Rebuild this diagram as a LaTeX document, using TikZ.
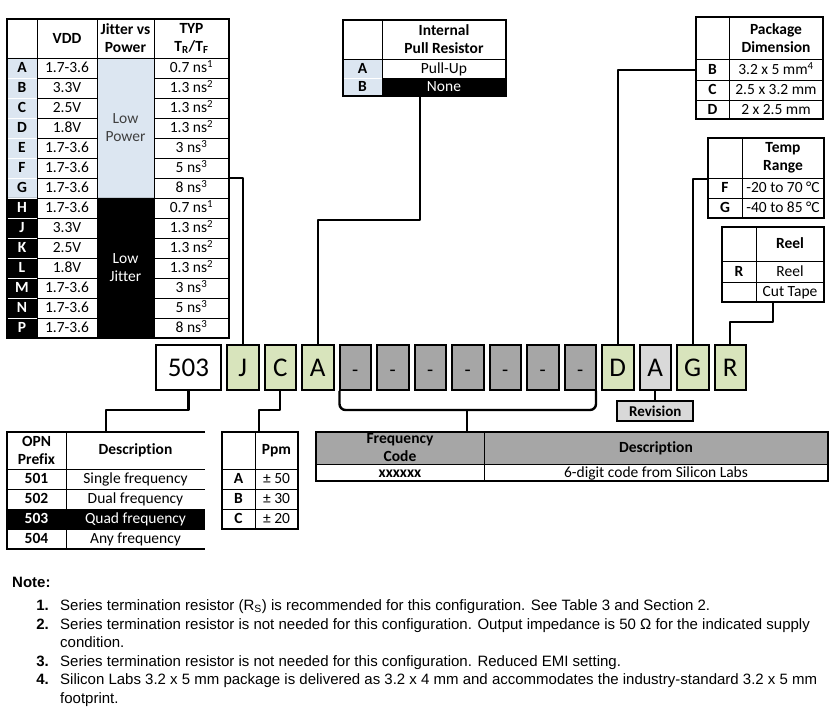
\documentclass[tikz,border=0pt]{standalone}
\usepackage{fontspec}
\setmainfont{Carlito}[Ligatures=NoCommon]
\newfontfamily\notefont{Liberation Sans}
\usetikzlibrary{positioning, calc}
\definecolor{lowBlue}{HTML}{DCE6F1}
\definecolor{optGreen}{HTML}{D8E4BC}
\definecolor{codeGray}{HTML}{A6A6A6}
\definecolor{revGray}{HTML}{D9D9D9}
\definecolor{textGray}{gray}{0.25}

\tikzset{
    frame/.style={line width=2pt},
    sep/.style={line width=0.8pt},
    wire/.style={line width=2.4pt, line join=round},
    cell/.style={inner sep=0pt, text height=10.5pt, text depth=1pt, font=\fontsize{15.5}{18}\selectfont},
    cellb/.style={cell, font=\fontsize{15.5}{18}\selectfont\bfseries},
    mline/.style={inner sep=0pt, align=center, font=\fontsize{15.5}{18}\selectfont},
    hdm/.style={mline, font=\fontsize{15.5}{18}\selectfont\bfseries},
    codebox/.style={draw, line width=2pt, fill=optGreen, minimum width=31.5pt, minimum height=45pt,
        inner sep=0pt, text height=17.5pt, text depth=0pt, font=\fontsize{27}{27}\selectfont},
    dashbox/.style={codebox, fill=codeGray, font=\fontsize{20}{20}\selectfont},
    revbox/.style={draw, line width=2pt, fill=revGray, minimum width=76pt, minimum height=20pt,
        inner sep=0pt, font=\fontsize{15}{18}\selectfont\bfseries},
    note/.style={inner sep=0pt, font=\fontsize{15}{18}\notefont},
    noteno/.style={inner sep=0pt, anchor=base east, font=\fontsize{15}{18}\notefont\bfseries}
}

\begin{document}
\begin{tikzpicture}[x=1pt, y=-1pt]
    \useasboundingbox (0,0) rectangle (839,711);

    % VDD / jitter table
    \fill[lowBlue] (7,58) rectangle (37,198) (97,58) rectangle (154,198);
    \fill[black] (7,198) rectangle (37,338) (97,198) rectangle (154,338);
    \foreach \y in {78,98,...,318} \draw[sep, white] (7,\y) -- (37,\y);
    \foreach \y in {78,98,...,318} \draw[sep] (37,\y) -- (97,\y) (154,\y) -- (229,\y);
    \draw[sep] (7,58) -- (229,58) (37,19) -- (37,338) (97,19) -- (97,338) (154,19) -- (154,338);
    \draw[frame] (7,19) rectangle (229,338);
    \node[hdm] (vddHd) at (67,38.5) {VDD};
    \node[hdm] (jitHd) at (125.5,38.5) {Jitter vs\\Power};
    \node[hdm] (typHd) at (191.5,38.5) {TYP\\T\textsubscript{R}/T\textsubscript{F}};
    \foreach \l [count=\i] in {A,B,C,D,E,F,G} \node[cellb] (lp\i) at (22,{48+20*\i}) {\l};
    \foreach \l [count=\i] in {H,J,K,L,M,N,P} \node[cellb, white] (lj\i) at (22,{188+20*\i}) {\l};
    \foreach \v [count=\i] in {1.7-3.6,3.3V,2.5V,1.8V,1.7-3.6,1.7-3.6,1.7-3.6} {
        \node[cell] (vp\i) at (67,{48+20*\i}) {\v};
        \node[cell] (vj\i) at (67,{188+20*\i}) {\v};
    }
    \foreach \t [count=\i] in {0.7 ns\textsuperscript{1}, 1.3 ns\textsuperscript{2}, 1.3 ns\textsuperscript{2},
            1.3 ns\textsuperscript{2}, 3 ns\textsuperscript{3}, 5 ns\textsuperscript{3}, 8 ns\textsuperscript{3}} {
        \node[cell] (tp\i) at (191.5,{48+20*\i}) {\t};
        \node[cell] (tj\i) at (191.5,{188+20*\i}) {\t};
    }
    \node[mline, textGray] (lowPow) at (125.5,128) {Low\\Power};
    \node[mline, white] (lowJit) at (125.5,268) {Low\\Jitter};
    \coordinate (vddG) at (229,178);

    % internal pull resistor
    \fill[lowBlue] (343,59) rectangle (382,96);
    \fill[black] (382,78) rectangle (506,96);
    \draw[sep, white] (343,78) -- (382,78);
    \draw[sep] (343,59) -- (506,59) (382,78) -- (506,78) (382,20) -- (382,96);
    \draw[frame] (343,20) rectangle (506,96);
    \node[hdm] (pullHd) at (444,39.5) {Internal\\Pull Resistor};
    \node[cellb] (pullA) at (362.5,68.5) {A};
    \node[cell] (pullUp) at (444,68.5) {Pull-Up};
    \node[cellb] (pullBl) at (362.5,87) {B};
    \node[cell, white] (pullNo) at (444,87) {None};
    \coordinate (pullB) at (420,96);

    % package dimension
    \draw[sep] (696,59) -- (823,59) (696,80) -- (823,80) (696,100) -- (823,100) (729,17) -- (729,119);
    \draw[frame] (696,17) rectangle (823,119);
    \node[hdm] (pkgHd) at (776,38) {Package\\Dimension};
    \foreach \l/\v/\y in {B/3.2 x 5 mm\textsuperscript{4}/69.5, C/2.5 x 3.2 mm/90, D/2 x 2.5 mm/109.5} {
        \node[cellb] (pkgL\l) at (712.5,\y) {\l};
        \node[cell] (pkgV\l) at (776,\y) {\v};
    }
    \coordinate (pkgB) at (696,70);

    % temp range
    \draw[sep] (708,178) -- (824,178) (708,198) -- (824,198) (742,138) -- (742,218);
    \draw[frame] (708,138) rectangle (824,218);
    \node[hdm] (tempHd) at (783,158) {Temp\\Range};
    \node[cellb] (tempLF) at (725,188) {F};
    \node[cell] (tempVF) at (783,188) {-20 to 70 °C};
    \node[cellb] (tempLG) at (725,208) {G};
    \node[cell] (tempVG) at (783,208) {-40 to 85 °C};
    \coordinate (tempF) at (708,179);

    % reel
    \draw[sep] (722,261) -- (824,261) (722,282) -- (824,282) (756,227) -- (756,302);
    \draw[frame] (722,227) rectangle (824,302);
    \node[cellb] (reelHd) at (790,244) {Reel};
    \node[cellb] (reelL) at (739,271.5) {R};
    \node[cell] (reelV) at (790,271.5) {Reel};
    \node[cell] (cutV) at (790,292) {Cut Tape};
    \coordinate (reelBot) at (773,302);

    % part number boxes
    \node[codebox, fill=white, minimum width=65pt, anchor=north west] (b503) at (155,344) {503};
    \node[codebox, right=4pt of b503] (bJ) {J};
    \node[codebox, right=4pt of bJ] (bC) {C};
    \node[codebox, right=4pt of bC] (bA) {A};
    \node[dashbox, right=4pt of bA] (d1) {-};
    \foreach \i [remember=\i as \last (initially 1)] in {2,...,7}
        \node[dashbox, right=4pt of d\last] (d\i) {-};
    \node[codebox, right=4pt of d7] (bD) {D};
    \node[codebox, fill=revGray, right=4pt of bD] (bRev) {A};
    \node[codebox, right=4pt of bRev] (bG) {G};
    \node[codebox, right=4pt of bG] (bR) {R};
    \node[revbox, below=9pt of bRev] (rev) {Revision};

    % OPN prefix
    \fill[black] (7,509) rectangle (205,529);
    \draw[sep] (7,469) -- (205,469) (7,489) -- (205,489) (7,509) -- (205,509) (7,529) -- (205,529) (66,432) -- (66,549);
    \draw[frame] (205,432) -- (7,432) -- (7,549) -- (205,549);
    \node[hdm] (opnHd) at (36.5,450.5) {OPN\\Prefix};
    \node[hdm] (opnDesc) at (135.5,450.5) {Description};
    \node[cellb] (opn1) at (36.5,479) {501};
    \node[cell] (opnD1) at (135.5,479) {Single frequency};
    \node[cellb] (opn2) at (36.5,499) {502};
    \node[cell] (opnD2) at (135.5,499) {Dual frequency};
    \node[cellb, white] (opn3) at (36.5,519) {503};
    \node[cell, white] (opnD3) at (135.5,519) {Quad frequency};
    \node[cellb] (opn4) at (36.5,539) {504};
    \node[cell] (opnD4) at (135.5,539) {Any frequency};
    \coordinate (opnTop) at (106,432);

    % ppm
    \draw[sep] (222,469) -- (298,469) (222,489) -- (298,489) (222,509) -- (298,509) (255,432) -- (255,529);
    \draw[frame] (222,432) rectangle (298,529);
    \node[hdm] (ppmHd) at (276.5,450.5) {Ppm};
    \foreach \l/\v/\y in {A/50/479, B/30/499, C/20/519} {
        \node[cellb] (ppmL\l) at (238.5,\y) {\l};
        \node[cell] (ppmV\l) at (276.5,\y) {± \v};
    }
    \coordinate (ppmTop) at (259,432);

    % frequency code
    \fill[codeGray] (316,432) rectangle (828,464);
    \draw[sep] (316,464) -- (828,464) (484,432) -- (484,481);
    \draw[frame] (316,432) rectangle (828,481);
    \node[hdm] (fcHd) at (400,448) {Frequency\\Code};
    \node[hdm] (fcDesc) at (656,448) {Description};
    \node[cellb] (fcX) at (400,472.5) {xxxxxx};
    \node[cell] (fcV) at (656,472.5) {6-digit code from Silicon Labs};
    \coordinate (fcTop) at (467,432);

    % connectors
    \draw[wire] (vddG) -| (bJ.north);
    \draw[wire] (pullB) -- ++(0,124) -| (bA.north);
    \draw[wire] (pkgB) -| (bD.north);
    \draw[wire] (tempF) -| (bG.north);
    \draw[wire] (reelBot) -- ++(0,20) -| (bR.north);
    \draw[wire] (bRev.south) -- (rev.north);
    \draw[wire] (b503.south) -- ++(0,19) -| (opnTop);
    \draw[wire] (bC.south) -- ++(0,19) -| (ppmTop);
    \coordinate (brL) at ($(d1.south west)+(1,0)$);
    \coordinate (brR) at ($(d7.south east)+(-1,0)$);
    \coordinate (brY) at ($(brL)+(0,19)$);
    \draw[wire, rounded corners=6pt] (brL) -- (brY) -| (brR);
    \draw[wire] (brY -| fcTop) -- (fcTop);

    % notes
    \node[note, anchor=base west, font=\fontsize{15}{18}\notefont\bfseries] (noteHd) at (12,587) {Note:};
    \node[noteno] (n1) at (49,610) {1.};
    \node[note, anchor=base west] (t1) at (60,610) {Series termination resistor (R\textsubscript{S}) is recommended for this configuration. See Table 3 and Section 2.};
    \node[noteno] (n2) at (49,629) {2.};
    \node[note, anchor=base west] (t2) at (60,629) {Series termination resistor is not needed for this configuration. Output impedance is 50 Ω for the indicated supply};
    \node[note, anchor=base west] (t2b) at (60,647) {condition.};
    \node[noteno] (n3) at (49,666) {3.};
    \node[note, anchor=base west] (t3) at (60,666) {Series termination resistor is not needed for this configuration. Reduced EMI setting.};
    \node[noteno] (n4) at (49,684) {4.};
    \node[note, anchor=base west] (t4) at (60,684) {Silicon Labs 3.2 x 5 mm package is delivered as 3.2 x 4 mm and accommodates the industry-standard 3.2 x 5 mm};
    \node[note, anchor=base west] (t4b) at (60,703) {footprint.};
\end{tikzpicture}
\end{document}
